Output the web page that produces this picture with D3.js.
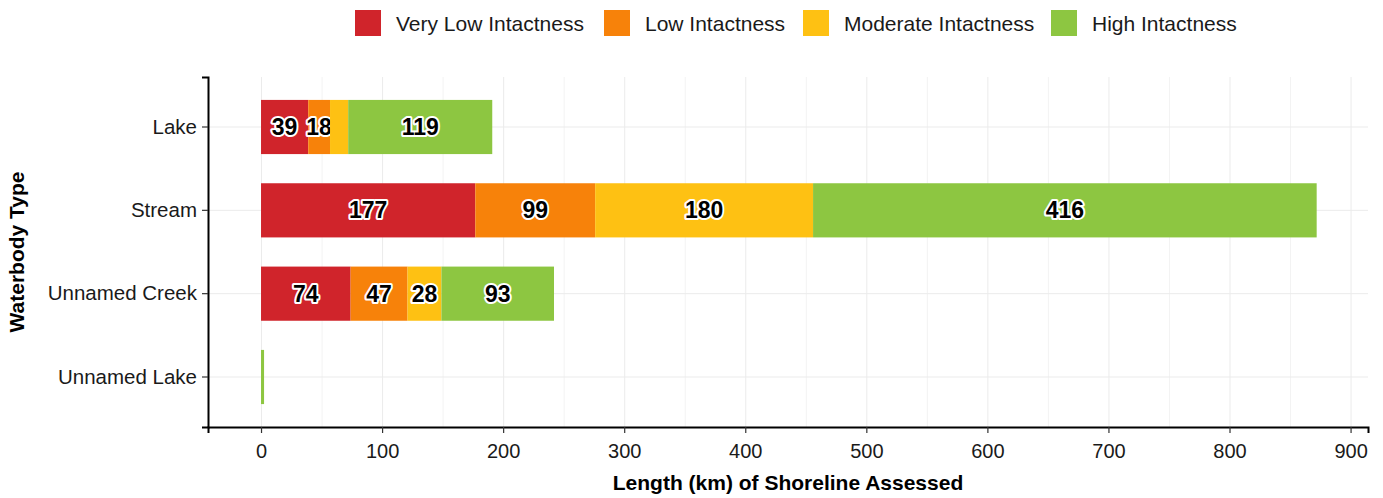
<!DOCTYPE html>
<html>
<head>
<meta charset="utf-8">
<script src="https://cdn.jsdelivr.net/npm/d3@7"></script>
<style>
body { margin: 0; background: #fff; font-family: "Liberation Sans", Arial, sans-serif; }
.grid line { stroke: #ebebeb; }
.grid .domain { display: none; }
.minor line { stroke: #f3f3f3; }
.axis text { fill: #1a1a1a; font-family: "Liberation Sans", Arial, sans-serif; }
.xaxis text { font-size: 20px; }
.yaxis text { font-size: 20.5px; }
.axis line { stroke: #333; stroke-width: 1.2; }
.axis .domain { stroke: #000; stroke-width: 2; }
.lbl { font-size: 23px; font-weight: bold; fill: #000; stroke: #fff; stroke-width: 4px; paint-order: stroke; stroke-linejoin: round; }
</style>
</head>
<body>
<div id="chart"></div>
<script>
// data
var waterbodies = ["Lake", "Stream", "Unnamed Creek", "Unnamed Lake"];
var classes = ["Very Low Intactness", "Low Intactness", "Moderate Intactness", "High Intactness"];
var colors = ["#d0242b", "#f7820a", "#fec113", "#8dc641"];
var veryLow = [39, 177, 74, 0];
var low = [18, 99, 47, 0];
var moderate = [15, 180, 28, 0];
var high = [119, 416, 93, 2.5];
var xTicks = [0, 100, 200, 300, 400, 500, 600, 700, 800, 900];

var chartProperties = {
	outerWidth: 1383,
	outerHeight: 498,
	margin: { top: 77, right: 15, bottom: 71, left: 208 }
};
chartProperties.width = chartProperties.outerWidth - chartProperties.margin.left - chartProperties.margin.right;
chartProperties.height = chartProperties.outerHeight - chartProperties.margin.top - chartProperties.margin.bottom;

var rows = waterbodies.map(function(w, i) {
	return { name: w, "Very Low Intactness": veryLow[i], "Low Intactness": low[i],
		"Moderate Intactness": moderate[i], "High Intactness": high[i] };
});
var series = d3.stack().keys(classes)(rows);

var root = d3.select("#chart").append("svg")
	.attr("width", chartProperties.outerWidth)
	.attr("height", chartProperties.outerHeight);

var svg = root.append("g")
	.attr("transform", "translate(" + chartProperties.margin.left + "," + chartProperties.margin.top + ")");

// Scales
var xScale = d3.scaleLinear()
	.domain([-43.8, 914.4])
	.range([0, chartProperties.width]);

var yScale = d3.scaleBand()
	.domain(waterbodies)
	.range([0, chartProperties.height])
	.paddingInner(0.35)
	.paddingOuter(0.275);

var color = d3.scaleOrdinal().domain(classes).range(colors);

// Gridlines
var minorTicks = [50, 150, 250, 350, 450, 550, 650, 750, 850];
svg.append("g")
	.attr("class", "grid minor")
	.call(d3.axisTop(xScale).tickValues(minorTicks).tickFormat("").tickSize(-chartProperties.height));

svg.append("g")
	.attr("class", "grid")
	.call(d3.axisTop(xScale).tickValues(xTicks).tickFormat("").tickSize(-chartProperties.height));

svg.append("g")
	.attr("class", "grid")
	.call(d3.axisLeft(yScale).tickFormat("").tickSize(-chartProperties.width));

// Bars
var layer = svg.selectAll(".layer")
	.data(series)
	.enter().append("g")
	.attr("class", "layer")
	.attr("fill", function(d) { return color(d.key); });

layer.selectAll("rect")
	.data(function(d) { return d; })
	.enter().append("rect")
	.attr("x", function(d) { return xScale(d[0]); })
	.attr("width", function(d) { return xScale(d[1]) - xScale(d[0]); })
	.attr("y", function(d) { return yScale(d.data.name); })
	.attr("height", yScale.bandwidth());

// Labels
layer.selectAll("text")
	.data(function(d) { return d.filter(function(p) { return p[1] - p[0] >= 18; }); })
	.enter().append("text")
	.attr("class", "lbl")
	.attr("text-anchor", "middle")
	.attr("x", function(d) { return xScale((d[0] + d[1]) / 2); })
	.attr("y", function(d) { return yScale(d.data.name) + yScale.bandwidth() / 2 + 8; })
	.text(function(d) { return d[1] - d[0]; });

// Axes
svg.append("g")
	.attr("class", "axis xaxis")
	.attr("transform", "translate(0," + chartProperties.height + ")")
	.call(d3.axisBottom(xScale).tickValues(xTicks).tickSizeOuter(0).tickSize(6).tickPadding(11));

svg.append("g")
	.attr("class", "axis yaxis")
	.call(d3.axisLeft(yScale).tickSizeOuter(0).tickSize(6).tickPadding(5));

// Axis titles
root.append("text")
	.attr("x", chartProperties.margin.left + chartProperties.width / 2 + 0)
	.attr("y", 490)
	.attr("text-anchor", "middle")
	.style("font-size", "21px")
	.style("font-weight", "bold")
	.text("Length (km) of Shoreline Assessed");

root.append("text")
	.attr("transform", "translate(24," + (chartProperties.margin.top + chartProperties.height / 2) + ") rotate(-90)")
	.attr("text-anchor", "middle")
	.style("font-size", "21px")
	.style("font-weight", "bold")
	.text("Waterbody Type");

// Legend
var legendX = [355, 604, 803, 1051];
var legend = root.selectAll(".legend")
	.data(classes)
	.enter().append("g")
	.attr("class", "legend")
	.attr("transform", function(d, i) { return "translate(" + legendX[i] + ",10)"; });

legend.append("rect")
	.attr("width", 26)
	.attr("height", 26)
	.attr("fill", function(d) { return color(d); });

legend.append("text")
	.attr("x", 41)
	.attr("y", 21)
	.style("font-size", "21px")
	.style("fill", "#1a1a1a")
	.text(function(d) { return d; });
</script>
</body>
</html>
